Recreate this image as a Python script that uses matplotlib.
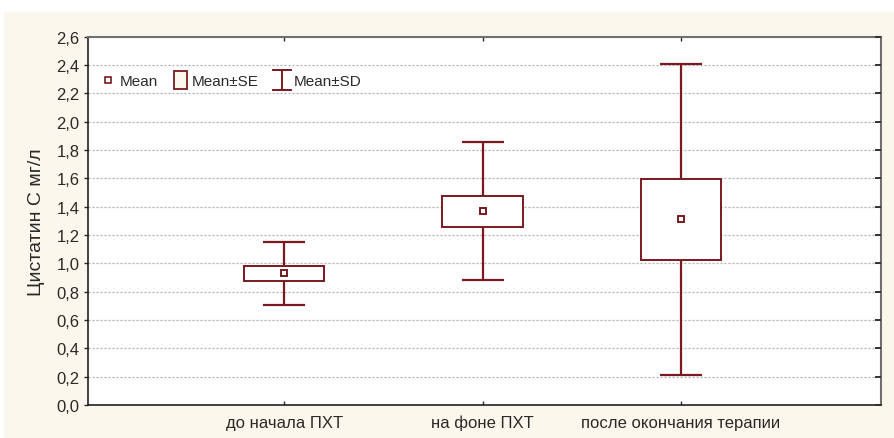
import matplotlib
matplotlib.use("Agg")
import matplotlib.pyplot as plt
from matplotlib.patches import Rectangle
from matplotlib.lines import Line2D
from matplotlib.legend_handler import HandlerBase

categories = ["до начала ПХТ", "на фоне ПХТ", "после окончания терапии"]
means = [0.928, 1.368, 1.309]
se = [0.053, 0.110, 0.286]
sd = [0.224, 0.486, 1.097]
yticks = [0.0, 0.2, 0.4, 0.6, 0.8, 1.0, 1.2, 1.4, 1.6, 1.8, 2.0, 2.2, 2.4, 2.6]
ylabel = "Цистатин С мг/л"

RED = "#7a1a20"
CREAM = "#fcf7ec"
TXT = "#2a2a2a"

plt.rcParams['font.family'] = ['Liberation Sans', 'DejaVu Sans']

fig = plt.figure(figsize=(8.94, 4.39), dpi=100)
fig.patch.set_facecolor("white")
fig.patches.append(Rectangle((4/894, 0), 1 - 4/894, 1 - 13/439, transform=fig.transFigure,
                             facecolor=CREAM, edgecolor="none", zorder=-10))

ax = fig.add_axes([88/894, 1 - 406/439, (881-88)/894, (406-37.5)/439])
ax.set_facecolor("white")

x = list(range(1, len(categories) + 1))
ax.errorbar(x, means, yerr=sd, fmt='none', ecolor=RED, elinewidth=1.6,
            capsize=14.8, capthick=1.6, zorder=2)
ax.bar(x, [2*s for s in se], bottom=[m - s for m, s in zip(means, se)], width=0.405,
       facecolor="white", edgecolor=RED, linewidth=1.4, zorder=3)
ax.plot(x, means, 's', mfc="white", mec=RED, ms=5, mew=1.4, zorder=4, linestyle='none')

ax.set_xlim(0.01, 4.01)
ax.set_ylim(0, 2.6)
ax.set_yticks(yticks)
ax.set_yticklabels([f"{v:.1f}".replace('.', ',') for v in yticks])
ax.set_xticks(x)
ax.set_xticklabels(categories)
ax.yaxis.grid(True, linestyle=(0, (1.6, 1.6)), color="#b0b0b0", linewidth=0.9)
ax.set_axisbelow(True)

ax.tick_params(axis='y', direction='out', length=3, labelsize=12, colors=TXT, width=1, pad=3)
ax.tick_params(axis='x', direction='in', length=3, labelsize=12, colors=TXT, width=1,
               top=True, pad=7)
for side in ['left', 'bottom']:
    ax.spines[side].set_color("#222222")
    ax.spines[side].set_linewidth(1.2)
for side in ['top', 'right']:
    ax.spines[side].set_color("#707070")
    ax.spines[side].set_linewidth(1.5)
ax.set_ylabel(ylabel, fontsize=14, color=TXT, labelpad=8)

# inward ticks on the right side
ax_r = ax.twinx()
ax_r.set_ylim(ax.get_ylim())
ax_r.set_yticks(yticks)
ax_r.tick_params(axis='y', direction='in', length=4, width=1.4, colors="#333333", labelright=False)
for s in ax_r.spines.values():
    s.set_visible(False)


class HandlerBox(HandlerBase):
    def create_artists(self, legend, orig_handle, xdescent, ydescent, width, height, fontsize, trans):
        w = width * 0.85
        h = height * 1.7
        r = Rectangle((-xdescent + (width - w)/2, -ydescent + (height - h)/2), w, h,
                      facecolor=CREAM, edgecolor=RED, linewidth=1.3, transform=trans)
        return [r]


class HandlerWhisker(HandlerBase):
    def create_artists(self, legend, orig_handle, xdescent, ydescent, width, height, fontsize, trans):
        cx = -xdescent + width/2
        h = height * 1.9
        y0 = -ydescent + (height - h)/2
        y1 = y0 + h
        hw = width * 0.6
        v = Line2D([cx, cx], [y0, y1], color=RED, lw=1.4, transform=trans)
        c1 = Line2D([cx - hw, cx + hw], [y0, y0], color=RED, lw=1.4, transform=trans)
        c2 = Line2D([cx - hw, cx + hw], [y1, y1], color=RED, lw=1.4, transform=trans)
        return [v, c1, c2]


h_mean = Line2D([], [], marker='s', mfc="white", mec=RED, ms=5, mew=1.2, linestyle='none')
h_box = Rectangle((0, 0), 1, 1)
h_sd = Line2D([], [])
leg = ax.legend([h_mean, h_box, h_sd], ["Mean", "Mean±SE", "Mean±SD"],
                handler_map={h_box: HandlerBox(), h_sd: HandlerWhisker()},
                loc='upper left', bbox_to_anchor=(-0.0017, 0.935), ncol=3, frameon=False,
                fontsize=11, handlelength=1.0, handletextpad=0.25, columnspacing=1.0)
for t in leg.get_texts():
    t.set_color(TXT)

fig.savefig("out.png", dpi=100, facecolor=fig.get_facecolor())
